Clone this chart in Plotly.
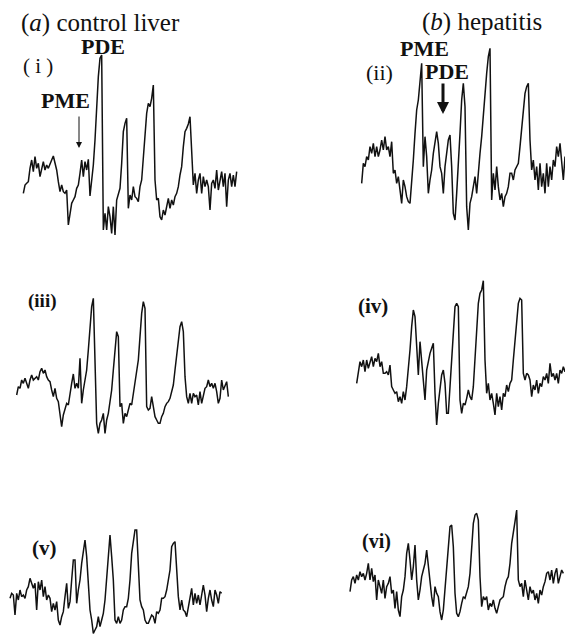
import plotly.graph_objects as go

# Pen-trace readings taken off the scanned spectra (scan units, read at a
# uniform spacing; larger value = lower on the page).
spec_i = [580, 555, 550, 545, 505, 480, 515, 470, 505, 490, 530, 505, 485, 510, 495, 505, 490, 480, 468, 490,
          510, 545, 575, 555, 575, 580, 570, 675, 640, 610, 600, 590, 565, 555, 520, 480, 530, 485, 510, 478,
          588, 545, 495, 420, 300, 230, 175, 165, 690, 640, 690, 620, 650, 700, 620, 705, 600, 580, 565, 490,
          395, 370, 355, 625, 585, 600, 560, 590, 595, 605, 560, 540, 480, 400, 340, 310, 320, 295, 255, 540,
          600, 595, 650, 660, 630, 645, 620, 595, 625, 600, 615, 590, 580, 560, 525, 500, 440, 395, 385, 372,
          350, 480, 555, 520, 580, 540, 520, 580, 530, 560, 540, 560, 630, 550, 540, 565, 510, 570, 540, 515,
          560, 520, 620, 540, 520, 560, 525, 560, 515]

spec_ii = [550, 490, 500, 470, 480, 440, 460, 430, 470, 440, 470, 450, 420, 450, 410, 450, 440, 470, 425, 520,
           510, 550, 530, 570, 610, 540, 560, 590, 605, 610, 550, 480, 400, 330, 300, 240, 190, 500, 410, 470,
           580, 540, 510, 460, 420, 395, 430, 500, 520, 580, 500, 450, 420, 405, 500, 640, 660, 580, 470, 400,
           300, 250, 320, 620, 690, 610, 590, 560, 530, 580, 510, 460, 410, 340, 280, 220, 170, 145, 600, 520,
           570, 500, 560, 600, 580, 620, 590, 580, 560, 520, 520, 540, 510, 500, 490, 440, 390, 320, 280, 260,
           250, 420, 510, 480, 540, 500, 570, 490, 560, 520, 580, 490, 560, 500, 540, 480, 500, 440, 470, 430,
           490, 540, 470, 500, 430, 470, 460, 510]

spec_iii = [375, 350, 355, 330, 340, 325, 340, 355, 330, 315, 330, 325, 320, 330, 305, 295, 310, 300, 320, 330,
            335, 360, 380, 355, 385, 395, 430, 470, 435, 420, 400, 405, 365, 340, 312, 355, 340, 355, 265, 400,
            360, 335, 300, 240, 180, 110, 85, 300, 460, 490, 460, 450, 430, 490, 450, 430, 400, 360, 300, 230,
            185, 200, 410, 400, 460, 430, 440, 420, 400, 405, 370, 330, 300, 270, 200, 130, 95, 115, 410, 420,
            415, 380, 410, 440, 450, 460, 460, 440, 430, 410, 400, 395, 385, 360, 345, 300, 250, 210, 170, 155,
            185, 320, 380, 400, 370, 400, 370, 380, 375, 405, 365, 400, 380, 355, 350, 330, 350, 340, 355, 340,
            365, 400, 385, 330, 360, 345, 335, 380]

spec_iv = [370, 330, 305, 320, 300, 335, 300, 325, 310, 290, 320, 295, 305, 280, 320, 305, 340, 340, 335, 345,
           315, 380, 390, 400, 395, 425, 410, 430, 395, 420, 380, 330, 270, 200, 150, 170, 270, 345, 245, 310,
           360, 420, 330, 300, 280, 265, 250, 400, 495, 430, 390, 345, 330, 370, 460, 460, 380, 300, 200, 140,
           130, 140, 420, 460, 430, 435, 415, 390, 410, 420, 380, 300, 220, 130, 100, 90, 62, 300, 400, 370,
           420, 400, 430, 465, 400, 440, 410, 450, 400, 410, 375, 395, 370, 360, 300, 250, 190, 130, 115, 120,
           340, 360, 340, 345, 360, 410, 375, 390, 360, 400, 370, 380, 350, 360, 340, 370, 310, 350, 340, 360,
           340, 370, 330, 340, 320, 335, 315, 300, 295]

spec_v = [355, 340, 345, 405, 340, 360, 330, 350, 345, 355, 330, 320, 295, 310, 325, 310, 390, 305, 330, 300,
          350, 320, 360, 345, 355, 395, 370, 390, 365, 420, 435, 410, 395, 350, 310, 385, 365, 300, 240, 240,
          370, 330, 300, 250, 205, 180, 230, 320, 390, 420, 460, 450, 440, 410, 440, 420, 400, 360, 300, 220,
          165, 230, 300, 420, 430, 410, 430, 420, 390, 380, 380, 355, 300, 220, 175, 150, 150, 250, 360, 380,
          390, 420, 430, 430, 420, 405, 410, 430, 395, 400, 390, 355, 355, 350, 330, 300, 270, 200, 190, 185,
          270, 350, 390, 360, 390, 395, 410, 380, 350, 325, 375, 340, 370, 345, 375, 340, 315, 345, 395, 355,
          330, 360, 380, 330, 345, 370, 335, 340]

spec_vi = [335, 300, 290, 310, 285, 300, 275, 290, 280, 300, 280, 250, 300, 265, 305, 285, 360, 300, 320, 340,
           300, 355, 320, 310, 290, 340, 330, 385, 335, 390, 410, 350, 330, 290, 220, 190, 240, 300, 260, 195,
           300, 360, 330, 290, 270, 250, 210, 260, 300, 350, 380, 320, 340, 350, 395, 420, 390, 320, 250, 180,
           140, 135, 200, 340, 400, 410, 395, 370, 350, 355, 340, 320, 280, 200, 130, 105, 100, 120, 290, 380,
           350, 360, 350, 390, 370, 380, 360, 385, 400, 380, 360, 355, 350, 320, 300, 290, 250, 190, 150, 125,
           90, 300, 320, 310, 350, 300, 330, 360, 320, 340, 330, 360, 340, 370, 330, 345, 320, 305, 280, 275,
           300, 270, 310, 280, 265, 310, 290, 270, 280]

# ---- layout: where each spectrum sits on the page (pixels) ----
SCALE = 3.0      # scan units per page pixel
STEP = 5         # spacing of readings, scan units
panels = [
    (spec_i, 0, 0, 70),
    (spec_ii, 290, 0, 215),
    (spec_iii, 0, 270, 50),
    (spec_iv, 290, 260, 200),
    (spec_v, 0, 480, 30),
    (spec_vi, 290, 480, 180),
]

W, H = 573, 634
PAGE = 8   # default page margin of the html body, compensated in the axis ranges
fig = go.Figure()
for vals, ox, oy, zx0 in panels:
    xs = [ox + (zx0 + STEP * k) / SCALE for k in range(len(vals))]
    ys = [oy + v / SCALE for v in vals]
    fig.add_trace(go.Scatter(x=xs, y=ys, mode="lines",
                             line=dict(color="#111111", width=1.5),
                             hoverinfo="skip", showlegend=False))

SERIF = "Liberation Serif, Times New Roman, serif"


def label(text, x, y, size=22, bold=False):
    t = f"<b>{text}</b>" if bold else text
    fig.add_annotation(x=x, y=y, xref="x", yref="y", text=t, showarrow=False,
                       xanchor="left", yanchor="middle", borderpad=0,
                       font=dict(family=SERIF, size=size, color="#111111"))


label("(<i>a</i>) control liver", 20, 23, size=25)
label("PDE", 80, 46, size=22, bold=True)
label("( i )", 22, 66, size=21)
label("PME", 40, 100, size=22, bold=True)

label("(<i>b</i>) hepatitis", 421, 22, size=25)
label("PME", 399, 48, size=22, bold=True)
label("(ii)", 365, 72, size=22)
label("PDE", 424, 71, size=22, bold=True)

label("(iii)", 27, 301, size=19, bold=True)
label("(iv)", 357, 306, size=21, bold=True)
label("(v)", 31, 548, size=21, bold=True)
label("(vi)", 361, 541, size=20, bold=True)

# arrows
fig.add_annotation(x=79, y=148, ax=79, ay=115, xref="x", yref="y", axref="x", ayref="y",
                   text="", showarrow=True, arrowhead=2, arrowsize=1.2, arrowwidth=1,
                   arrowcolor="#111111")
fig.add_annotation(x=443, y=114, ax=443, ay=82, xref="x", yref="y", axref="x", ayref="y",
                   text="", showarrow=True, arrowhead=2, arrowsize=0.8, arrowwidth=3,
                   arrowcolor="#111111")

fig.update_layout(
    width=W, height=H,
    margin=dict(l=0, r=0, t=0, b=0),
    paper_bgcolor="white", plot_bgcolor="white",
    xaxis=dict(range=[PAGE, W + PAGE], visible=False, fixedrange=True),
    yaxis=dict(range=[H + PAGE, PAGE], visible=False, fixedrange=True),
)

fig.write_html("out.html")
